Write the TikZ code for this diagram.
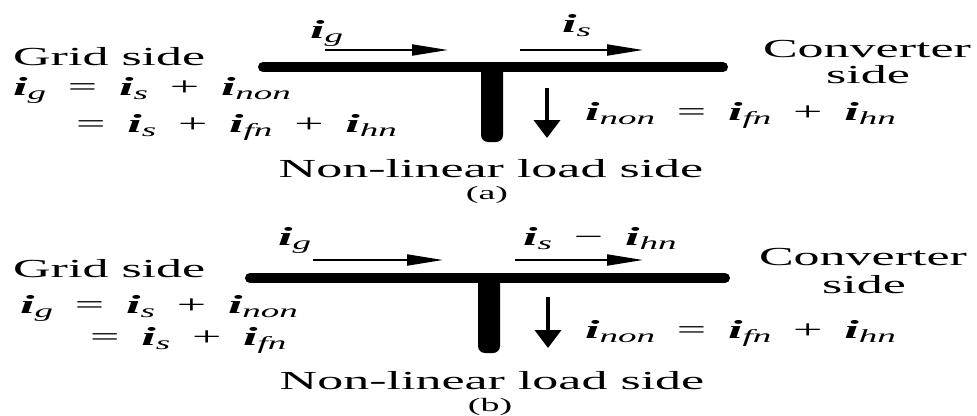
\documentclass[tikz,border=0pt]{standalone}
\usepackage{fontspec}
\setmainfont{Liberation Serif}
\usepackage{graphicx}
\usetikzlibrary{arrows.meta}
\tikzset{
  busline/.style ={line width=10pt, line cap=round},
  stubfill/.style={fill=black, rounded corners=7pt},
  flowarr/.style ={-{Triangle[length=36pt,width=11pt]}, line width=2pt},
  loadarr/.style ={-{Triangle[length=18pt,width=26pt]}, line width=4pt},
  lbl/.style     ={inner sep=0pt, font=\fontsize{26}{28}\selectfont},
  caplbl/.style  ={inner sep=0pt, font=\fontsize{19}{21}\selectfont},
}
\newcommand{\wide}[1]{\scalebox{2}[1]{#1}}
\newcommand{\cur}[1]{\textbf{\textit{i}}\raisebox{-4pt}{\fontsize{18.5}{20}\selectfont\itshape #1}}
\newcommand{\gap}{\hspace{0.42em}}

\begin{document}
\begin{tikzpicture}[x=1pt, y=-1pt]
\useasboundingbox (0,0) rectangle (977,415);

% ── (a) ───────────────────────────────────────────────────────────────────────
\coordinate (busAw)  at (263,67);
\coordinate (busAe)  at (723,67);
\coordinate (stubAt) at (481,62);
\coordinate (stubAb) at (503,142);
\coordinate (igAs)   at (325,50);
\coordinate (igAe)   at (448,50);
\coordinate (isAs)   at (520,50);
\coordinate (isAe)   at (643,50);
\coordinate (ldAs)   at (547,88);
\coordinate (ldAe)   at (547,138);

\draw[busline]  (busAw) -- (busAe);
\fill[stubfill] (stubAt) rectangle (stubAb);
\draw[flowarr]  (igAs) -- (igAe);
\draw[flowarr]  (isAs) -- (isAe);
\draw[loadarr]  (ldAs) -- (ldAe);

\node[lbl, anchor=base west] (igA)   at (310,38)  {\wide{\cur{g}}};
\node[lbl, anchor=base west] (isA)   at (562,32)  {\wide{\cur{s}}};
\node[lbl, anchor=base west] (gridA) at (13,65)   {\wide{Grid side}};
\node[lbl, anchor=base west] (eqA1)  at (13,95)
  {\wide{\cur{g}\gap=\gap\cur{s}\gap+\gap\cur{non}}};
\node[lbl, anchor=base west] (eqA2)  at (76,132)
  {\wide{=\gap\cur{s}\gap+\gap\cur{fn}\gap+\gap\cur{hn}}};
\node[lbl, anchor=base west] (nonA)  at (585,120)
  {\wide{\cur{non}\gap=\gap\cur{fn}\gap+\gap\cur{hn}}};
\node[lbl, anchor=base] (convA) at (867,57)  {\wide{Converter}};
\node[lbl, anchor=base] (sideA) at (868,83)  {\wide{side}};
\node[lbl, anchor=base] (loadA) at (491,177) {\wide{Non-linear load side}};
\node[caplbl, anchor=base] (capA) at (487,199) {\wide{(a)}};

% ── (b) ───────────────────────────────────────────────────────────────────────
\coordinate (busBw)  at (250,278);
\coordinate (busBe)  at (725,278);
\coordinate (stubBt) at (478,273);
\coordinate (stubBb) at (500,353);
\coordinate (igBs)   at (313,260);
\coordinate (igBe)   at (443,260);
\coordinate (isBs)   at (515,260);
\coordinate (isBe)   at (643,260);
\coordinate (ldBs)   at (548,297);
\coordinate (ldBe)   at (548,348);

\draw[busline]  (busBw) -- (busBe);
\fill[stubfill] (stubBt) rectangle (stubBb);
\draw[flowarr]  (igBs) -- (igBe);
\draw[flowarr]  (isBs) -- (isBe);
\draw[loadarr]  (ldBs) -- (ldBe);

\node[lbl, anchor=base west] (igB)   at (278,245) {\wide{\cur{g}}};
\node[lbl, anchor=base west] (isB)   at (523,245)
  {\wide{\cur{s}\gap−\gap\cur{hn}}};
\node[lbl, anchor=base west] (gridB) at (13,277)  {\wide{Grid side}};
\node[lbl, anchor=base west] (eqB1)  at (20,313)
  {\wide{\cur{g}\gap=\gap\cur{s}\gap+\gap\cur{non}}};
\node[lbl, anchor=base west] (eqB2)  at (90,345)
  {\wide{=\gap\cur{s}\gap+\gap\cur{fn}}};
\node[lbl, anchor=base west] (nonB)  at (585,338)
  {\wide{\cur{non}\gap=\gap\cur{fn}\gap+\gap\cur{hn}}};
\node[lbl, anchor=base] (convB) at (863,265) {\wide{Converter}};
\node[lbl, anchor=base] (sideB) at (864,293) {\wide{side}};
\node[lbl, anchor=base] (loadB) at (492,389) {\wide{Non-linear load side}};
\node[caplbl, anchor=base] (capB) at (490,411) {\wide{(b)}};

\end{tikzpicture}
\end{document}
